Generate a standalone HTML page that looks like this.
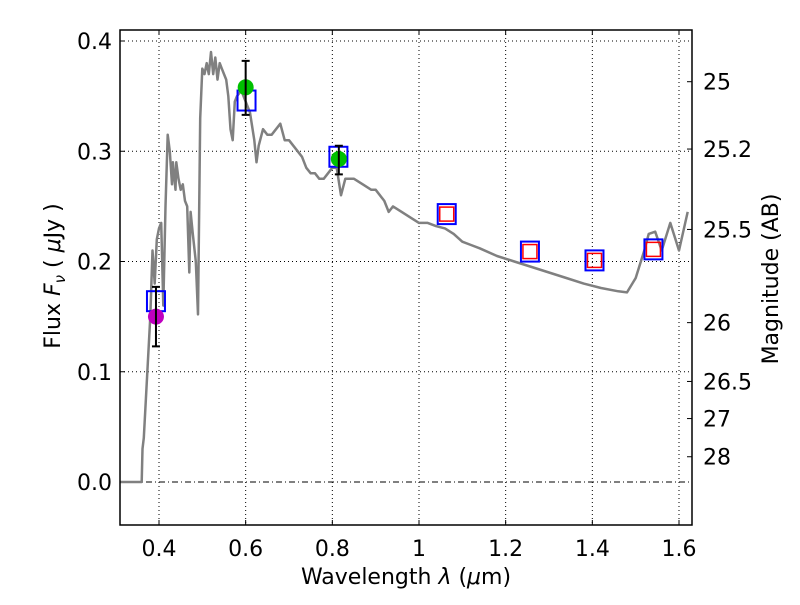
<!DOCTYPE html>
<html><head><meta charset="utf-8"><style>body{margin:0;background:#fff}svg text{font-family:"DejaVu Sans","Liberation Sans",sans-serif}</style></head>
<body>
<svg id="c" width="800" height="600" xmlns="http://www.w3.org/2000/svg"></svg>
<script>
const specX=[0.31,0.36,0.362,0.365,0.38,0.385,0.39,0.395,0.40,0.405,0.41,0.415,0.42,0.425,0.43,0.432,0.438,0.44,0.445,0.45,0.455,0.46,0.465,0.47,0.473,0.478,0.485,0.49,0.495,0.50,0.505,0.51,0.515,0.52,0.525,0.53,0.535,0.54,0.545,0.55,0.555,0.56,0.565,0.57,0.575,0.58,0.59,0.60,0.61,0.62,0.625,0.63,0.64,0.65,0.66,0.67,0.68,0.69,0.70,0.71,0.72,0.73,0.74,0.75,0.76,0.77,0.78,0.79,0.80,0.81,0.82,0.83,0.85,0.87,0.89,0.90,0.92,0.93,0.94,0.96,0.98,1.0,1.02,1.04,1.06,1.08,1.10,1.12,1.14,1.18,1.22,1.26,1.30,1.34,1.38,1.42,1.46,1.48,1.50,1.52,1.53,1.545,1.56,1.58,1.60,1.62];
const specY=[0,0,0.03,0.04,0.15,0.21,0.18,0.22,0.23,0.235,0.16,0.25,0.315,0.30,0.27,0.29,0.265,0.29,0.275,0.265,0.27,0.255,0.25,0.19,0.245,0.225,0.20,0.152,0.33,0.375,0.37,0.38,0.37,0.39,0.37,0.385,0.365,0.38,0.375,0.37,0.365,0.35,0.32,0.31,0.345,0.35,0.355,0.345,0.335,0.31,0.29,0.305,0.32,0.315,0.315,0.32,0.325,0.31,0.31,0.305,0.30,0.295,0.285,0.28,0.28,0.275,0.275,0.28,0.285,0.285,0.26,0.275,0.275,0.27,0.265,0.265,0.255,0.245,0.25,0.245,0.24,0.235,0.235,0.232,0.23,0.225,0.218,0.215,0.212,0.205,0.2,0.195,0.19,0.185,0.18,0.176,0.173,0.172,0.185,0.21,0.225,0.227,0.21,0.235,0.21,0.245];
const obsX=[0.393,0.60,0.815];
const obsY=[0.15,0.358,0.293];
const obsLo=[0.123,0.333,0.279];
const obsHi=[0.177,0.382,0.305];
const obsColor=["#bf00bf","#00c000","#00c000"];
const modX=[0.393,0.602,0.814,1.064,1.256,1.405,1.541];
const modY=[0.164,0.346,0.295,0.243,0.209,0.201,0.211];
const redX=[1.064,1.256,1.405,1.541];
const redY=[0.243,0.209,0.201,0.211];
const xTicks=[0.4,0.6,0.8,1.0,1.2,1.4,1.6];
const xTickLabels=["0.4","0.6","0.8","1","1.2","1.4","1.6"];
const yTicks=[0,0.1,0.2,0.3,0.4];
const yTickLabels=["0.0","0.1","0.2","0.3","0.4"];
const magTicks=[25,25.2,25.5,26,26.5,27,28];
const magLabels=["25","25.2","25.5","26","26.5","27","28"];

const L=120,R=692,T=30,B=525;
const sx=v=>159+(v-0.4)*433.33;
const sy=v=>482-v*1102.5;
const svg=document.getElementById('c');
const NS="http://www.w3.org/2000/svg";
function mk(tag,attrs,parent){const e=document.createElementNS(NS,tag);for(const k in attrs)e.setAttribute(k,attrs[k]);(parent||svg).appendChild(e);return e;}

xTicks.forEach((t,i)=>{
  const g=mk('line',{x1:sx(t),x2:sx(t),y1:T,y2:B,stroke:'#000','stroke-width':1,'stroke-dasharray':'1,3'});
  
  
  const tk=mk('line',{x1:sx(t),x2:sx(t),y1:B,y2:B-5,stroke:'#000'});
  
  
  const tk2=mk('line',{x1:sx(t),x2:sx(t),y1:T,y2:T+5,stroke:'#000'});
  
  
  const tx=mk('text',{x:sx(t),y:556,'text-anchor':'middle','font-size':22});
  tx.textContent=xTickLabels[i];
  
  
});
yTicks.forEach((t,i)=>{
  const g=mk('line',{x1:L,x2:R,y1:sy(t),y2:sy(t),stroke:'#000','stroke-width':1,'stroke-dasharray':t===0?'6,3,1,3':'1,3'});
  
  
  const tk=mk('line',{x1:L,x2:L+5,y1:sy(t),y2:sy(t),stroke:'#000'});
  
  
  const tx=mk('text',{x:112,y:sy(t)+8,'text-anchor':'end','font-size':22});
  tx.textContent=yTickLabels[i];
  
  
});
magTicks.forEach((m,i)=>{
  const y=sy(Math.pow(10,-0.4*(m-23.9)));
  const tk=mk('line',{x1:R-5,x2:R,y1:y,y2:y,stroke:'#000'});
  
  
  const tx=mk('text',{x:703,y:y+8,'font-size':22});
  tx.textContent=magLabels[i];
  
  
});

const pts=specX.map((x,i)=>sx(x).toFixed(1)+','+sy(specY[i]).toFixed(1)).join(' ');
const sp=mk('polyline',{points:pts,fill:'none',stroke:'#808080','stroke-width':2.5,'stroke-linejoin':'round'});



modX.forEach((x,i)=>{
  const r=mk('rect',{x:sx(x)-9,y:sy(modY[i])-10,width:18,height:20,fill:'none',stroke:'#0000ff','stroke-width':2});
  
  
});
redX.forEach((x,i)=>{
  const r=mk('rect',{x:sx(x)-7,y:sy(redY[i])-7,width:14,height:14,fill:'none',stroke:'#ff0000','stroke-width':1.5});
  
  
});
obsX.forEach((x,i)=>{
  const X=sx(x);
  const c=mk('circle',{cx:X,cy:sy(obsY[i]),r:8,fill:obsColor[i]});
  
  
  const e=mk('path',{d:`M${X},${sy(obsLo[i])}V${sy(obsHi[i])}M${X-4},${sy(obsLo[i])}H${X+4}M${X-4},${sy(obsHi[i])}H${X+4}`,stroke:'#000','stroke-width':2,fill:'none'});
  
  
});

const fr=mk('rect',{x:L,y:T,width:R-L,height:B-T,fill:'none',stroke:'#000','stroke-width':1.5});



const xl=mk('text',{x:406,y:584,'text-anchor':'middle','font-size':22});
xl.innerHTML='Wavelength  <tspan font-style="italic">λ</tspan> (<tspan font-style="italic">μ</tspan>m)';


const yl=mk('text',{x:0,y:0,'text-anchor':'middle','font-size':22,transform:'translate(60,276) rotate(-90)'});
yl.innerHTML='Flux  <tspan font-style="italic">F</tspan><tspan font-style="italic" font-size="15" dy="5">ν</tspan><tspan dy="-5">  ( </tspan><tspan font-style="italic">μ</tspan>Jy )';


const ml=mk('text',{x:0,y:0,'text-anchor':'middle','font-size':22,transform:'translate(778,279) rotate(-90)'});
ml.textContent='Magnitude (AB)';


</script>
</body></html>
